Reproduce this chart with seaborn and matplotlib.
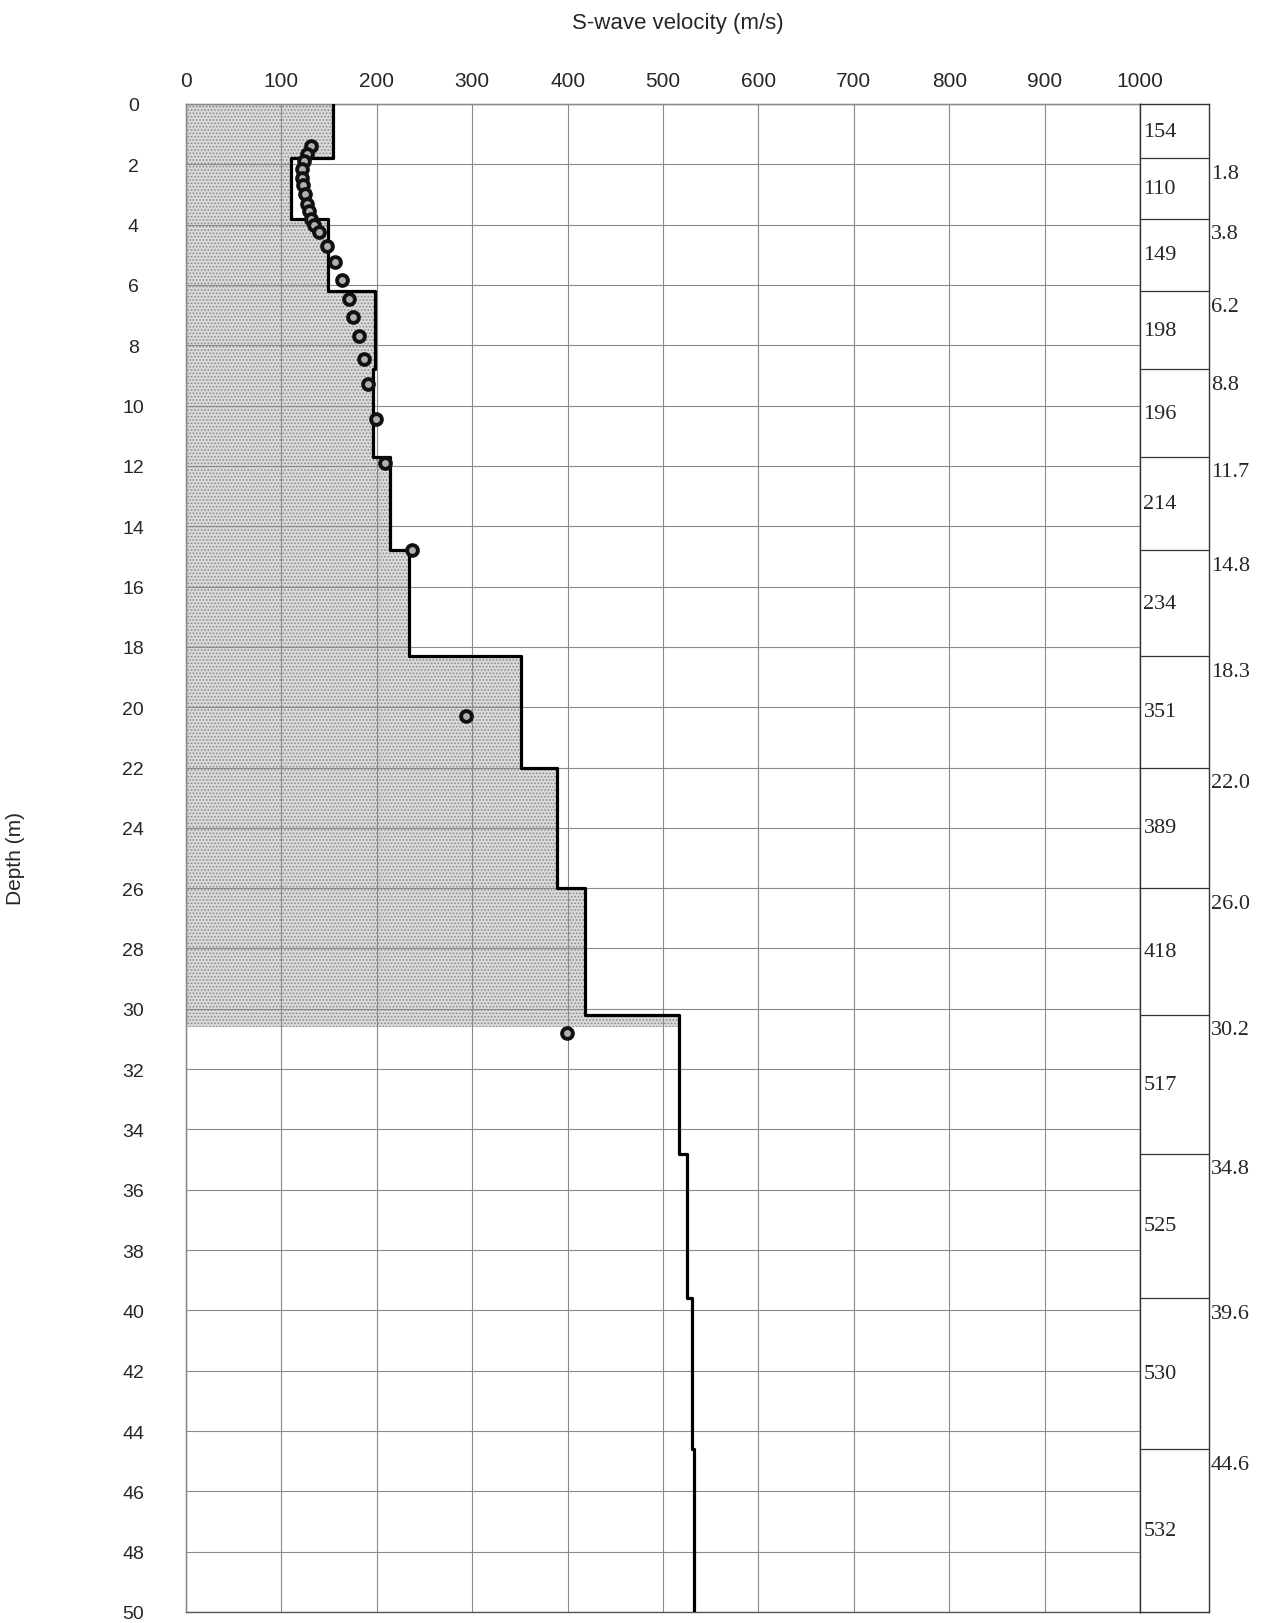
import numpy as np
import pandas as pd
import matplotlib
matplotlib.use("Agg")
import matplotlib.pyplot as plt
import matplotlib.transforms as mtransforms
import seaborn as sns

# layered Vs model (velocity per layer, bottom depth of each layer)
layer_vs = [154, 110, 149, 198, 196, 214, 234, 351, 389, 418, 517, 525, 530, 532]
layer_bottom = [1.8, 3.8, 6.2, 8.8, 11.7, 14.8, 18.3, 22.0, 26.0, 30.2, 34.8, 39.6, 44.6, 50.0]
shade_depth = 30.6

# measured points
point_vs = [131, 127, 124, 122, 122, 123, 125, 127, 129, 131, 134, 139,
            148, 156, 164, 171, 175, 181, 187, 191, 199, 209, 237, 294, 399]
point_depth = [1.4, 1.65, 1.9, 2.15, 2.45, 2.7, 3.0, 3.3, 3.55, 3.8, 4.0, 4.25,
               4.7, 5.25, 5.85, 6.45, 7.05, 7.7, 8.45, 9.3, 10.45, 11.9, 14.8, 20.3, 30.8]

x_ticks = list(range(0, 1001, 100))
y_ticks = list(range(0, 51, 2))

sns.set_style("white")
plt.rcParams['font.family'] = ['Liberation Sans', 'DejaVu Sans']
plt.rcParams['hatch.linewidth'] = 0.8

# step coordinates
tops = [0.0] + layer_bottom[:-1]
step_v = np.repeat(layer_vs, 2)
step_d = np.column_stack([tops, layer_bottom]).ravel()
profile = pd.DataFrame({'Vs': step_v, 'Depth': step_d})
points = pd.DataFrame({'Vs': point_vs, 'Depth': point_depth})

W, H = 1261, 1624
fig = plt.figure(figsize=(W / 100, H / 100), dpi=100)
left, right_main, right_box, top, bottom = 186, 1140, 1209, 105, 1613
ax = fig.add_axes([left / W, 1 - bottom / H, (right_main - left) / W, (bottom - top) / H])
axr = fig.add_axes([right_main / W, 1 - bottom / H, (right_box - right_main) / W, (bottom - top) / H])

# shaded area down to ~30.6 m
ax.fill_betweenx(np.minimum(step_d, shade_depth), 0, step_v,
                 facecolor='#dadada', edgecolor='#8a8a8a', hatch='.....', linewidth=0, zorder=1)

sns.lineplot(data=profile, x='Vs', y='Depth', sort=False, estimator=None,
             color='black', linewidth=2.3, ax=ax, zorder=4)
sns.scatterplot(data=points, x='Vs', y='Depth', marker='o', s=60, color='#b0b0b0',
                edgecolor='#111111', linewidth=2.8, ax=ax, zorder=5)

ax.set_xlim(0, 1000)
ax.set_ylim(50, 0)
ax.set_xticks(x_ticks)
ax.set_yticks(y_ticks)
ax.grid(True, color='#8a8a8a', linewidth=0.8)
ax.set_axisbelow(False)
ax.xaxis.tick_top()
ax.tick_params(axis='x', length=0, pad=10, labelsize=15)
ax.tick_params(axis='y', length=0, pad=38, labelsize=14)
for lbl in ax.get_yticklabels():
    lbl.set_horizontalalignment('center')
ax.set_xlabel('')
ax.set_ylabel('')
for s in ax.spines.values():
    s.set_color('#555555')
    s.set_linewidth(1.0)

# right panel with layer values
serif = ['Liberation Serif', 'DejaVu Serif']
axr.set_xlim(0, 1)
axr.set_ylim(50, 0)
axr.set_xticks([])
axr.set_yticks([])
for s in axr.spines.values():
    s.set_color('#333333')
    s.set_linewidth(1.0)
trans = mtransforms.blended_transform_factory(axr.transAxes, axr.transData)
for t, b, v in zip(tops, layer_bottom, layer_vs):
    axr.text(0.05, (t + b) / 2, str(v), ha='left', va='center', fontsize=16, family=serif)
for b in layer_bottom[:-1]:
    axr.axhline(b, color='#333333', linewidth=0.9)
    axr.text(1.03, b + 0.5, f'{b:.1f}', transform=trans, ha='left', va='center',
             fontsize=16, family=serif, clip_on=False)

fig.text(678 / W, 1 - 23 / H, 'S-wave velocity (m/s)', ha='center', va='center', fontsize=16)
fig.text(16 / W, 1 - 859 / H, 'Depth (m)', ha='center', va='center', rotation=90, fontsize=15)

fig.savefig('out.png', dpi=100)
